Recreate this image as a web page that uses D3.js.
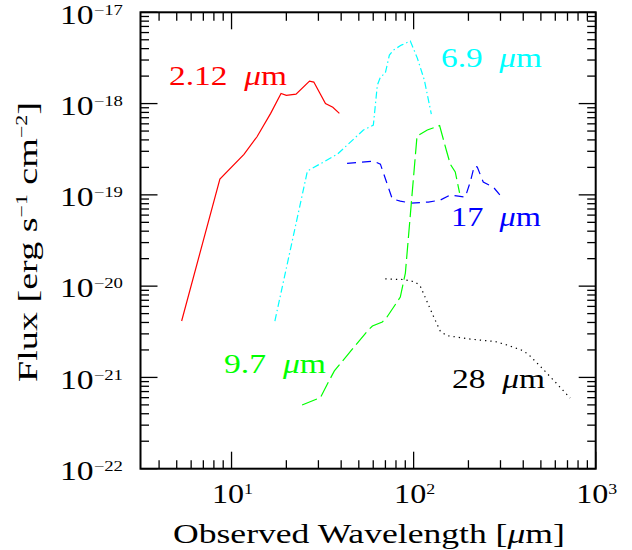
<!DOCTYPE html>
<html>
<head>
<meta charset="utf-8">
<script src="https://cdn.jsdelivr.net/npm/d3@7"></script>
<style>
  body { margin: 0; background: #fff; }
  text { font-family: "Liberation Serif", serif; fill: #000; }
</style>
</head>
<body>
<div id="chart"></div>
<script>
// values (wavelength in micron, flux in erg s^-1 cm^-2)
var redWl   = [5.32, 8.63, 11.7, 13.8, 16.4, 18.7, 20.0, 22.6, 26.8, 28.3, 32.8, 36.0, 39.1];
var redFlux = [4.15e-21, 1.49e-19, 2.78e-19, 4.33e-19, 7.81e-19, 1.29e-18, 1.23e-18, 1.27e-18, 1.76e-18, 1.72e-18, 1.0e-18, 9.1e-19, 7.8e-19];

var cyanWl   = [17.3, 26.1, 38.2, 53.0, 60.1, 63.2, 65.7, 69.9, 73.6, 77.4, 85.6, 95.9, 104.8, 114.5, 125.1];
var cyanFlux = [4.15e-21, 1.82e-19, 2.80e-19, 5.13e-19, 5.81e-19, 1.59e-18, 1.95e-18, 2.16e-18, 3.40e-18, 3.85e-18, 4.37e-18, 4.84e-18, 3.15e-18, 1.81e-18, 7.67e-19];

var blueWl   = [43.1, 60.3, 65.7, 76.4, 84.5, 95.9, 120.4, 140.1, 159.0, 175.9, 192.1, 204.6, 215.3, 223.6, 241.2, 273.7, 310.5];
var blueFlux = [2.21e-19, 2.34e-19, 2.17e-19, 9.0e-20, 8.55e-20, 8.13e-20, 8.34e-20, 8.77e-20, 9.95e-20, 9.70e-20, 9.46e-20, 1.38e-19, 2.07e-19, 2.02e-19, 1.38e-19, 1.22e-19, 9.0e-20];

var greenWl   = [24.4, 30.8, 33.6, 36.7, 55.7, 59.4, 67.3, 70.8, 84.5, 90.1, 104.4, 118.9, 138.9, 151.1, 159.0, 169.3, 178.8];
var greenFlux = [4.99e-22, 6.02e-22, 8.47e-22, 1.18e-21, 3.22e-21, 3.66e-21, 4.05e-21, 4.47e-21, 7.60e-21, 1.39e-20, 4.41e-19, 5.13e-19, 5.74e-19, 3.10e-19, 2.17e-19, 1.78e-19, 1.05e-19];

var blackWl   = [69.9, 88.9, 102.2, 108.8, 128.3, 140.1, 151.1, 204.6, 280.7, 326.6, 389.8, 425.8, 495.5, 606.6, 723.8];
var blackFlux = [1.20e-20, 1.18e-20, 1.11e-20, 1.00e-20, 4.70e-21, 3.22e-21, 2.88e-21, 2.63e-21, 2.47e-21, 2.26e-21, 2.00e-21, 1.80e-21, 1.33e-21, 8.68e-22, 5.95e-22];

var lineLabels = ["2.12", "6.9", "17", "9.7", "28"];
var xTickExp = [1, 2, 3];
var yTickExp = [-22, -21, -20, -19, -18, -17];

// styles / placement
var series = [
    {wl: redWl,   flux: redFlux,   color: "#ff0000", dash: null,        lab: [169, 85]},
    {wl: cyanWl,  flux: cyanFlux,  color: "#00ffff", dash: "7,3,1.5,3", lab: [441, 67]},
    {wl: blueWl,  flux: blueFlux,  color: "#0000ff", dash: "9,6",       lab: [451, 226]},
    {wl: greenWl, flux: greenFlux, color: "#00ff00", dash: "16,5",      lab: [224, 373]},
    {wl: blackWl, flux: blackFlux, color: "#000000", dash: "1.3,4",     lab: [452, 388]}
];
var labWidth = [118, 101, 90, 102, 93];

(function () {
    var W = 632, H = 550;
    var box = {left: 140.5, right: 595.7, top: 12.3, bottom: 468.7};
    var major = 17, minor = 8.5;

    var svg = d3.select("#chart").append("svg")
        .attr("width", W)
        .attr("height", H);

    var x = d3.scaleLog().domain([Math.pow(10, 0.5), 1000]).range([box.left, box.right]);
    var y = d3.scaleLog().domain([1e-22, 1e-17]).range([box.bottom, box.top]);

    // stretch a text horizontally so it covers w px, starting at x0
    function fit(t, x0, y0, w) {
        var n = t.node().getComputedTextLength();
        t.attr("transform", "translate(" + x0 + "," + y0 + ") scale(" + (w / n) + ",1)");
    }

    // ticks on all four sides, pointing inward
    var xt = x.ticks().filter(function (d) { return d >= x.domain()[0] && d <= 1000; });
    var yt = y.ticks();
    function isMajor(d) { return Math.abs(Math.log10(d) - Math.round(Math.log10(d))) < 1e-6; }

    var ticks = svg.append("g").attr("stroke", "#000").attr("stroke-width", 1.3);
    ticks.selectAll(".xb").data(xt).enter().append("line")
        .attr("x1", function (d) { return x(d); }).attr("x2", function (d) { return x(d); })
        .attr("y1", box.bottom).attr("y2", function (d) { return box.bottom - (isMajor(d) ? major : minor); });
    ticks.selectAll(".xt").data(xt).enter().append("line")
        .attr("x1", function (d) { return x(d); }).attr("x2", function (d) { return x(d); })
        .attr("y1", box.top).attr("y2", function (d) { return box.top + (isMajor(d) ? major : minor); });
    ticks.selectAll(".yl").data(yt).enter().append("line")
        .attr("y1", function (d) { return y(d); }).attr("y2", function (d) { return y(d); })
        .attr("x1", box.left).attr("x2", function (d) { return box.left + (isMajor(d) ? major : minor); });
    ticks.selectAll(".yr").data(yt).enter().append("line")
        .attr("y1", function (d) { return y(d); }).attr("y2", function (d) { return y(d); })
        .attr("x1", box.right).attr("x2", function (d) { return box.right - (isMajor(d) ? major : minor); });

    svg.append("rect")
        .attr("x", box.left).attr("y", box.top)
        .attr("width", box.right - box.left).attr("height", box.bottom - box.top)
        .attr("fill", "none").attr("stroke", "#000").attr("stroke-width", 2);

    // tick labels 10^n
    function powLabel(e) {
        var t = svg.append("text").style("font-size", "27px");
        t.append("tspan").text("10");
        t.append("tspan").attr("dy", -9).style("font-size", "15px")
            .text(e < 0 ? "\u2212" + (-e) : String(e));
        return t;
    }
    xTickExp.forEach(function (e) {
        fit(powLabel(e), x(Math.pow(10, e)) + 1 - 20.5, 503, 41);
    });
    yTickExp.forEach(function (e) {
        fit(powLabel(e), 123 - 63, y(Math.pow(10, e)) + 11.3, 63);
    });

    // curves
    var line = d3.line()
        .x(function (d) { return x(d[0]); })
        .y(function (d) { return y(d[1]); });

    series.forEach(function (s, i) {
        var pts = s.wl.map(function (w, j) { return [w, s.flux[j]]; });
        svg.append("path")
            .datum(pts)
            .attr("d", line)
            .attr("fill", "none")
            .attr("stroke", s.color)
            .attr("stroke-width", 1.2)
            .attr("stroke-dasharray", s.dash);

        var t = svg.append("text").style("font-size", "27px").style("fill", s.color);
        t.append("tspan").text(lineLabels[i] + "\u2002");
        t.append("tspan").style("font-style", "italic").text("\u03bc");
        t.append("tspan").text("m");
        fit(t, s.lab[0], s.lab[1], labWidth[i]);
    });

    // axis titles
    var xt1 = svg.append("text").style("font-size", "28px");
    xt1.append("tspan").text("Observed Wavelength [");
    xt1.append("tspan").style("font-style", "italic").text("\u03bc");
    xt1.append("tspan").text("m]");
    fit(xt1, 173, 543, 392);

    var yt1 = svg.append("text").style("font-size", "28px");
    yt1.append("tspan").text("Flux [erg s");
    yt1.append("tspan").attr("dy", -10).style("font-size", "16px").text("\u22121");
    yt1.append("tspan").attr("dy", 10).text(" cm");
    yt1.append("tspan").attr("dy", -10).style("font-size", "16px").text("\u22122");
    yt1.append("tspan").attr("dy", 10).text("]");
    var yn = yt1.node().getComputedTextLength();
    yt1.attr("transform", "translate(37,382) rotate(-90) scale(" + (280 / yn) + ",1)");
})();
</script>
</body>
</html>
